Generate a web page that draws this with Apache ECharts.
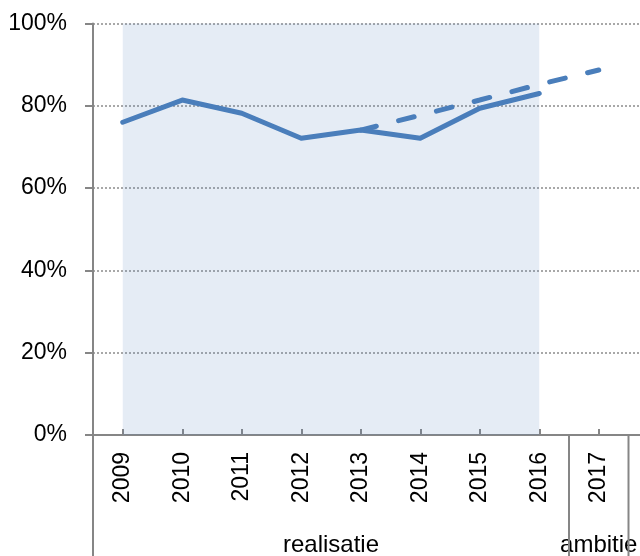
<!DOCTYPE html>
<html><head><meta charset="utf-8">
<script src="https://cdn.jsdelivr.net/npm/echarts@6/dist/echarts.min.js"></script>
<style>html,body{margin:0;padding:0;background:#fff}#c{width:640px;height:556px}</style>
</head><body><div id="c"></div>
<script>
// ---- data ----
const years = ['2009','2010','2011','2012','2013','2014','2015','2016','2017','2018'];
const realisatie = [76, 81.4, 78.2, 72.1, 74.1, 72.1, 79.4, 83.0, null, null];
const trend = [null, null, null, null, 74.1, 77.7, 81.4, 85.2, 88.7, null];
const groupNames = ['realisatie', 'ambitie'];
const groupStart = ['2009', '2017'];
const groupEnd = ['2016', '2017'];
const shadeFrom = '2009', shadeTo = '2016';
const yMin = 0, yMax = 100, yStep = 20;

const blue = '#4a7ebb';
const grey = '#868686';
const font = '"Liberation Sans", Arial, sans-serif';

const chart = echarts.init(document.getElementById('c'), null, {renderer: 'canvas'});
chart.setOption({
  animation: false,
  grid: {left: 93, top: 23.5, width: 595, bottom: 121, containLabel: false, outerBoundsMode: 'none'},
  xAxis: {
    type: 'category', data: years, boundaryGap: true,
    axisLine: {lineStyle: {color: grey, width: 2}},
    axisTick: {show: true, alignWithLabel: true, inside: true, length: 6, lineStyle: {color: grey, width: 2}},
    axisLabel: {rotate: 90, margin: 17, fontSize: 23, color: '#000', fontFamily: font, interval: 0},
    splitLine: {show: false}
  },
  yAxis: {
    type: 'value', min: yMin, max: yMax, interval: yStep,
    axisLine: {show: true, lineStyle: {color: grey, width: 2}},
    axisTick: {show: true, length: 8, lineStyle: {color: grey, width: 2}},
    axisLabel: {formatter: '{value}%', fontSize: 23, color: '#000', fontFamily: font, margin: 26},
    splitLine: {show: true, lineStyle: {color: '#8c8c8c', width: 1.5, type: [2, 2]}}
  },
  series: [
    {
      type: 'line', data: trend, symbol: 'none', connectNulls: false,
      lineStyle: {color: blue, width: 5, type: [16, 23], cap: 'round'},
      z: 3
    },
    {
      type: 'line', data: realisatie, symbol: 'none',
      lineStyle: {color: blue, width: 5, cap: 'round', join: 'round'},
      z: 4,
      markArea: {
        silent: true,
        itemStyle: {color: 'rgba(79,129,189,0.15)'},
        data: [[{xAxis: shadeFrom, yAxis: yMin}, {xAxis: shadeTo, yAxis: yMax}]]
      }
    }
  ]
});

// group separators and group labels below the year labels
const c0 = chart.convertToPixel({xAxisIndex: 0}, years[0]);
const c1 = chart.convertToPixel({xAxisIndex: 0}, years[1]);
const bw = c1 - c0;
const axisY = chart.convertToPixel({yAxisIndex: 0}, yMin);
const H = chart.getHeight();
const elements = [];
const seps = new Set();
groupNames.forEach((name, i) => {
  const xs = chart.convertToPixel({xAxisIndex: 0}, groupStart[i]) - bw / 2;
  const xe = chart.convertToPixel({xAxisIndex: 0}, groupEnd[i]) + bw / 2;
  seps.add(Math.round(xs * 2) / 2); seps.add(Math.round(xe * 2) / 2);
  elements.push({
    type: 'text', x: (xs + xe) / 2, y: axisY + 110,
    style: {text: name, fill: '#000', font: '24px ' + font, align: 'center', verticalAlign: 'middle'}
  });
});
seps.forEach(x => {
  elements.push({
    type: 'line', shape: {x1: x, y1: axisY, x2: x, y2: H},
    style: {stroke: grey, lineWidth: 2}
  });
});
chart.setOption({graphic: {elements}});
</script>
</body></html>
